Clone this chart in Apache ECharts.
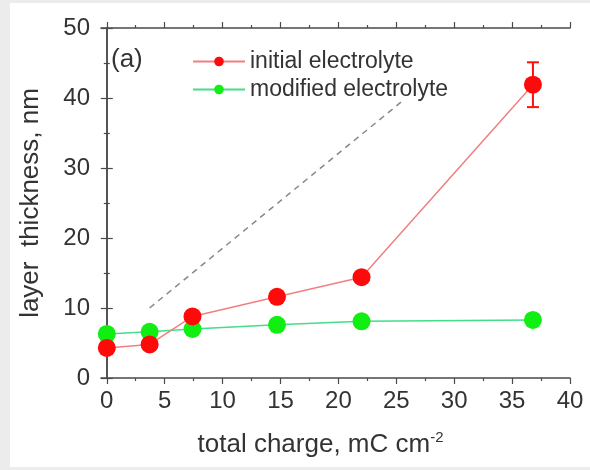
<!DOCTYPE html>
<html style="height: 100%">
<head>
    <meta charset="utf-8">
</head>
<body style="height: 100%; margin: 0; background: #ececec">
    <div id="container" style="width: 590px; height: 470px"></div>
    <script type="text/javascript" src="https://cdn.jsdelivr.net/npm/echarts@6/dist/echarts.min.js"></script>
    <script type="text/javascript">
        // total charge, mC cm-2
        var charge = [0, 3.7, 7.4, 14.7, 22, 36.8];
        // layer thickness, nm
        var initialThk = [4.3, 4.8, 8.8, 11.6, 14.4, 41.9];
        var initialErr = [0, 0, 0, 0, 0, 3.2];
        var modifiedThk = [6.3, 6.6, 7.0, 7.6, 8.1, 8.3];
        var modifiedErr = [0, 0, 0, 0, 0.8, 0.7];
        // dashed guide line
        var guideX = [3.7, 25.4];
        var guideY = [10, 39.4];
        // tick values
        var xTicks = [0, 5, 10, 15, 20, 25, 30, 35, 40];
        var xMinorTicks = [2.5, 7.5, 12.5, 17.5, 22.5, 27.5, 32.5, 37.5];

        function pairs(xs, ys) {
            return xs.map(function (x, i) { return [x, ys[i]]; });
        }
        function errData(xs, ys, es) {
            var out = [];
            xs.forEach(function (x, i) {
                if (es[i] > 0) out.push([x, ys[i] - es[i], ys[i] + es[i]]);
            });
            return out;
        }
        function errBar(color) {
            return function (params, api) {
                var lo = api.coord([api.value(0), api.value(1)]);
                var hi = api.coord([api.value(0), api.value(2)]);
                var w = 6;
                var st = { stroke: color, lineWidth: 2 };
                return {
                    type: 'group',
                    children: [
                        { type: 'line', shape: { x1: lo[0], y1: lo[1], x2: hi[0], y2: hi[1] }, style: st },
                        { type: 'line', shape: { x1: lo[0] - w, y1: lo[1], x2: lo[0] + w, y2: lo[1] }, style: st },
                        { type: 'line', shape: { x1: hi[0] - w, y1: hi[1], x2: hi[0] + w, y2: hi[1] }, style: st }
                    ]
                };
            };
        }

        var axisCol = '#4a4a4a';
        var font = 'Liberation Sans, Arial, sans-serif';

        function xAx(pos, minor, labels) {
            return {
                type: 'value',
                position: pos,
                min: -0.5,
                max: 40,
                offset: 0,
                axisLine: { show: !minor, lineStyle: { color: axisCol, width: 1.5 } },
                axisTick: {
                    show: true,
                    inside: false,
                    length: minor ? 3 : 6,
                    customValues: minor ? xMinorTicks : xTicks,
                    lineStyle: { color: axisCol, width: 1.2 }
                },
                axisLabel: {
                    show: labels,
                    customValues: xTicks,
                    margin: 11,
                    color: '#333',
                    fontSize: 24,
                    fontFamily: font
                },
                splitLine: { show: false }
            };
        }
        function yAx(pos, labels) {
            return {
                type: 'value',
                position: pos,
                min: 0,
                max: 50,
                interval: 10,
                axisLine: { show: true, lineStyle: { color: axisCol, width: 1.5 } },
                axisTick: { show: true, inside: false, length: 6, lineStyle: { color: axisCol, width: 1.2 } },
                minorTick: { show: true, splitNumber: 2, length: 3, lineStyle: { color: axisCol, width: 1.2 } },
                axisLabel: { show: labels, margin: 11, color: '#333', fontSize: 24, fontFamily: font },
                splitLine: { show: false }
            };
        }

        var dom = document.getElementById('container');
        var myChart = echarts.init(dom);

        var xBottom = xAx('bottom', false, true);
        xBottom.name = 'total charge, mC cm{sup|-2}';
        xBottom.nameLocation = 'middle';
        xBottom.nameGap = 52;
        xBottom.nameTextStyle = {
            color: '#333', fontSize: 26, fontFamily: font,
            padding: [0, 30, 0, 0],
            rich: { sup: { fontSize: 15, color: '#333', fontFamily: font, padding: [0, 0, 14, 0] } }
        };
        var yLeft = yAx('left', true);
        yLeft.name = 'layer  thickness, nm';
        yLeft.nameLocation = 'middle';
        yLeft.nameGap = 57;
        yLeft.nameTextStyle = { color: '#333', fontSize: 26, fontFamily: font };

        var option = {
            backgroundColor: '#ececec',
            animation: false,
            graphic: [{
                type: 'rect',
                z: -10,
                shape: { x: 10, y: 3, width: 580, height: 464 },
                style: { fill: '#ffffff' }
            }, {
                type: 'text',
                left: 111,
                top: 47,
                style: { text: '(a)', fontSize: 26, fill: '#333', fontFamily: font }
            }],
            grid: { left: 101, right: 20, top: 28, bottom: 92 },
            legend: {
                orient: 'vertical',
                left: 187,
                top: 45,
                itemWidth: 52,
                itemHeight: 12,
                itemGap: 5,
                data: ['initial electrolyte', 'modified electrolyte'],
                textStyle: { color: '#333', fontSize: 23, fontFamily: font }
            },
            xAxis: [xBottom, xAx('bottom', true, false), xAx('top', false, false), xAx('top', true, false)],
            yAxis: [yLeft, yAx('right', false)],
            series: [{
                type: 'line',
                data: pairs(guideX, guideY),
                symbol: 'none',
                lineStyle: { color: '#888', width: 1.5, type: [6, 5] },
                silent: true
            }, {
                type: 'custom',
                renderItem: errBar('#ff1010'),
                data: errData(charge, initialThk, initialErr),
                z: 3
            }, {
                type: 'custom',
                renderItem: errBar('#11ee11'),
                data: errData(charge, modifiedThk, modifiedErr),
                z: 3
            }, {
                name: 'modified electrolyte',
                type: 'line',
                data: pairs(charge, modifiedThk),
                symbol: 'circle',
                symbolSize: 18,
                itemStyle: { color: '#11ee11' },
                lineStyle: { color: '#44dd88', width: 1.5 },
                z: 4
            }, {
                name: 'initial electrolyte',
                type: 'line',
                data: pairs(charge, initialThk),
                symbol: 'circle',
                symbolSize: 18,
                itemStyle: { color: '#ff0a0a' },
                lineStyle: { color: '#f08080', width: 1.5 },
                z: 5
            }]
        };
        myChart.setOption(option);
    </script>
</body>
</html>
